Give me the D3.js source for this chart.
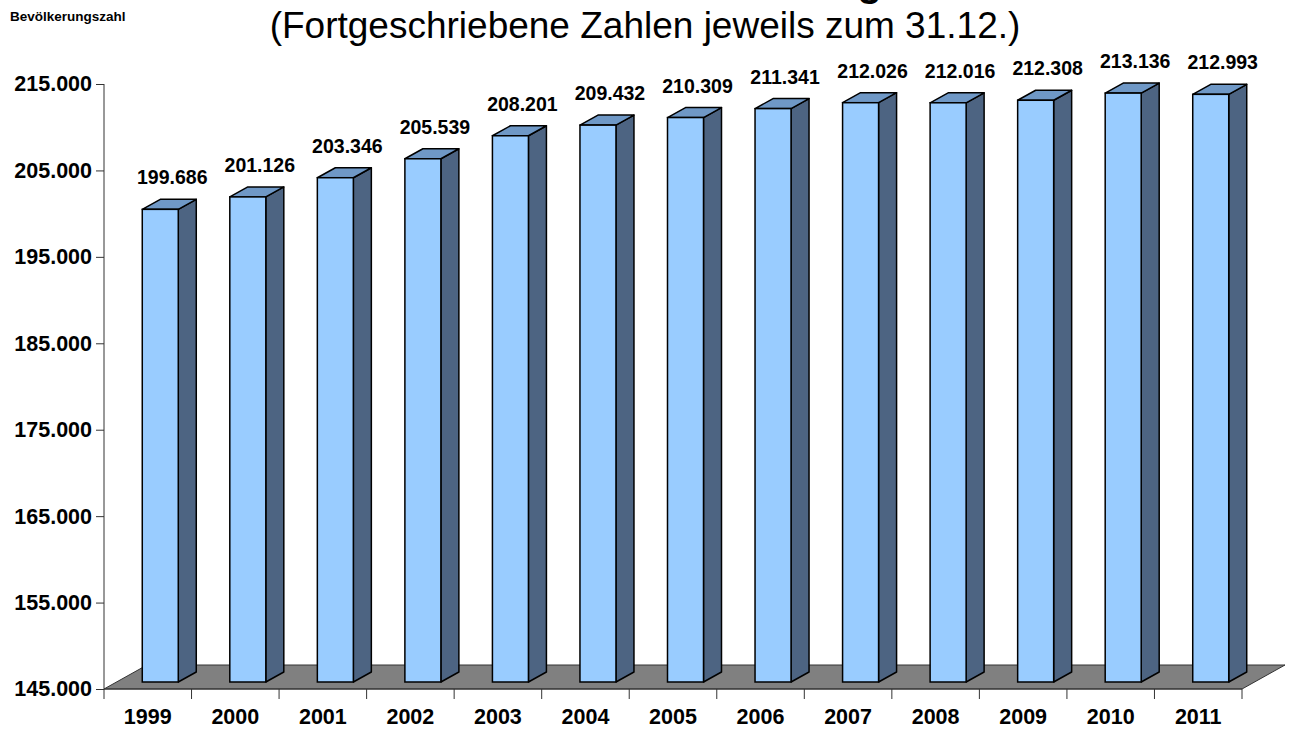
<!DOCTYPE html>
<html>
<head>
<meta charset="utf-8">
<script src="https://cdn.jsdelivr.net/npm/d3@7"></script>
<style>
  body { margin: 0; background: #fff; }
  text { font-family: Arial, "Liberation Sans", sans-serif; }
</style>
</head>
<body>
<script>
// Bevölkerungszahl je Jahr (Stand 31.12.)
let years = ["1999", "2000", "2001", "2002", "2003", "2004", "2005", "2006", "2007", "2008", "2009", "2010", "2011"]
let values = [199686, 201126, 203346, 205539, 208201, 209432, 210309, 211341, 212026, 212016, 212308, 213136, 212993]
let yTicks = [145000, 155000, 165000, 175000, 185000, 195000, 205000, 215000]

let w = 1293, h = 729
let pLeft = 104, pRight = 1242, pTop = 84, pBottom = 689
// Tiefe des Bodens und der Säulen (Pseudo-3D)
let floorD = { dx: 43, dy: -24 }
let barD = { dx: 18, dy: -10 }
let barW = 36

let svg = d3.select("body").append("svg")
    .attr("width", w)
    .attr("height", h)

let x = d3.scaleBand().domain(years).range([pLeft, pRight]).padding(0)
let y = d3.scaleLinear().domain([145000, 215000]).range([pBottom, pTop])
let fmt = v => d3.format(",")(v).replace(/,/g, ".")

// Kopfzeilen (erste Zeile ist im Original oben abgeschnitten)
svg.append("text")
    .attr("x", 882).attr("y", -4)
    .attr("text-anchor", "end")
    .style("font-weight", "bold").style("font-size", "40px")
    .text("Einwohnerentwicklung")
svg.append("text")
    .attr("x", 645).attr("y", 38)
    .attr("text-anchor", "middle")
    .style("font-size", "37px")
    .text("(Fortgeschriebene Zahlen jeweils zum 31.12.)")
svg.append("text")
    .attr("x", 10).attr("y", 21)
    .style("font-weight", "bold").style("font-size", "13.5px")
    .text("Bevölkerungszahl")

// Boden
let floor = [
    [pLeft, pBottom], [pLeft + floorD.dx, pBottom + floorD.dy],
    [pRight + floorD.dx, pBottom + floorD.dy], [pRight, pBottom]
]
svg.append("path")
    .attr("d", "M" + floor.join("L") + "Z")
    .attr("fill", "#808080")
    .attr("stroke", "#333")
    .attr("stroke-width", 1)

// y-Achse
let yAxis = svg.append("g")
    .attr("transform", `translate(${pLeft},0)`)
    .call(d3.axisLeft(y).tickValues(yTicks).tickFormat(fmt).tickSize(8).tickPadding(4))
yAxis.select(".domain").attr("stroke", "#333").attr("d", `M0,${pTop}V${pBottom}`)
yAxis.selectAll(".tick line").attr("stroke", "#333")
yAxis.selectAll(".tick text")
    .style("font-family", "Arial, 'Liberation Sans', sans-serif")
    .style("font-weight", "bold").style("font-size", "21.5px").attr("fill", "#000")

// x-Achse mit Trennstrichen zwischen den Jahren
let xg = svg.append("g")
xg.append("line")
    .attr("x1", pLeft).attr("x2", pRight).attr("y1", pBottom).attr("y2", pBottom)
    .attr("stroke", "#333")
let bounds = years.map(d => x(d)).concat([pRight])
xg.selectAll("line.tk").data(bounds).enter().append("line")
    .attr("class", "tk")
    .attr("x1", d => d).attr("x2", d => d)
    .attr("y1", pBottom).attr("y2", pBottom + 10)
    .attr("stroke", "#333")
xg.selectAll("text").data(years).enter().append("text")
    .attr("x", d => x(d) + x.bandwidth() / 2)
    .attr("y", 724)
    .attr("text-anchor", "middle")
    .style("font-weight", "bold").style("font-size", "21.5px")
    .text(d => d)

// Säulen
let offX = (floorD.dx - barD.dx) / 2, offY = (floorD.dy - barD.dy) / 2
let bars = svg.append("g").selectAll("g")
    .data(years.map((d, i) => ({ year: d, value: values[i] })))
    .enter().append("g")

let x0 = d => x(d.year) + (x.bandwidth() - barW) / 2 + offX
let yB = offY + pBottom
let yT = d => y(d.value) + offY

bars.append("path") // Seite
    .attr("d", d => {
        let a = x0(d) + barW
        return `M${a},${yT(d)}L${a + barD.dx},${yT(d) + barD.dy}L${a + barD.dx},${yB + barD.dy}L${a},${yB}Z`
    })
    .attr("fill", "#4d6482").attr("stroke", "#000").attr("stroke-width", 1.5).attr("stroke-linejoin", "round")
bars.append("path") // Deckel
    .attr("d", d => {
        let a = x0(d)
        return `M${a},${yT(d)}L${a + barD.dx},${yT(d) + barD.dy}L${a + barW + barD.dx},${yT(d) + barD.dy}L${a + barW},${yT(d)}Z`
    })
    .attr("fill", "#6f98c6").attr("stroke", "#000").attr("stroke-width", 1.5).attr("stroke-linejoin", "round")
bars.append("rect") // Front
    .attr("x", x0)
    .attr("y", yT)
    .attr("width", barW)
    .attr("height", d => yB - yT(d))
    .attr("fill", "#99ccff").attr("stroke", "#000").attr("stroke-width", 1.5)

bars.append("text")
    .attr("x", d => x0(d) + (barW + barD.dx) / 2 + 3)
    .attr("y", d => y(d.value) - 32)
    .attr("text-anchor", "middle")
    .style("font-weight", "bold").style("font-size", "19.5px")
    .text(d => fmt(d.value))
</script>
</body>
</html>
